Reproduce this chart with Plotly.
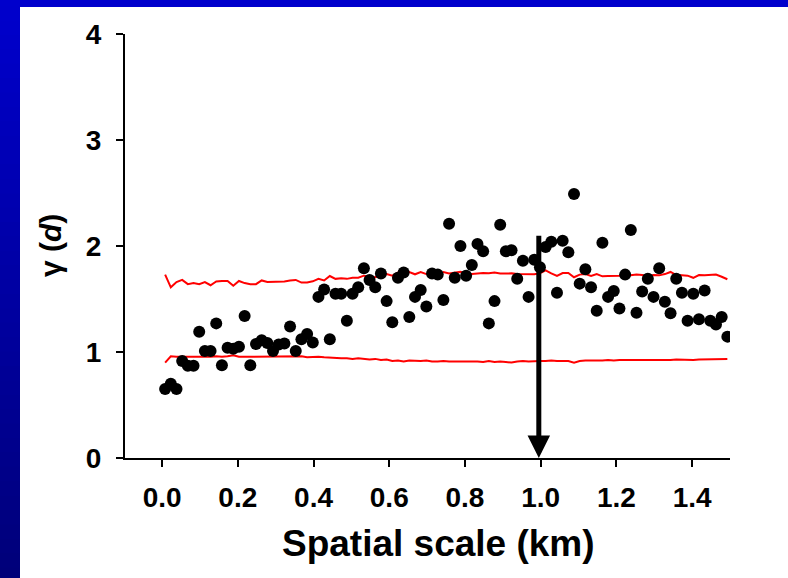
import plotly.graph_objects as go

# ---- data ----
scale_km = [round(0.008 + 0.015 * i, 3) for i in range(100)]

gamma = [0.65, 0.70, 0.65, 0.915, 0.87, 0.87, 1.19, 1.01, 1.01, 1.27,
         0.875, 1.04, 1.03, 1.05, 1.34, 0.875, 1.075, 1.11, 1.085, 1.01,
         1.07, 1.08, 1.24, 1.01, 1.12, 1.17, 1.09, 1.52, 1.59, 1.12,
         1.55, 1.55, 1.295, 1.55, 1.61, 1.79, 1.68, 1.61, 1.74, 1.48,
         1.28, 1.70, 1.75, 1.33, 1.52, 1.585, 1.43, 1.74, 1.73, 1.49,
         2.21, 1.70, 2.00, 1.72, 1.82, 2.02, 1.95, 1.27, 1.48, 2.20,
         1.95, 1.96, 1.69, 1.86, 1.52, 1.87, 1.80, 1.99, 2.04, 1.56,
         2.05, 1.94, 2.49, 1.645, 1.78, 1.61, 1.39, 2.03, 1.52, 1.575,
         1.41, 1.73, 2.15, 1.37, 1.57, 1.69, 1.52, 1.79, 1.475, 1.365,
         1.69, 1.56, 1.295, 1.55, 1.31, 1.58, 1.295, 1.26, 1.33, 1.145]

upper_env = [1.73, 1.61, 1.66, 1.68, 1.64, 1.65, 1.64, 1.66, 1.63, 1.665,
             1.67, 1.67, 1.625, 1.67, 1.65, 1.64, 1.64, 1.675, 1.66, 1.66,
             1.665, 1.665, 1.675, 1.68, 1.655, 1.655, 1.667, 1.69, 1.675, 1.717,
             1.69, 1.695, 1.69, 1.70, 1.70, 1.72, 1.71, 1.705, 1.726, 1.735,
             1.72, 1.75, 1.73, 1.755, 1.733, 1.755, 1.735, 1.735, 1.72, 1.755,
             1.74, 1.745, 1.757, 1.74, 1.735, 1.74, 1.745, 1.742, 1.75, 1.74,
             1.742, 1.742, 1.735, 1.733, 1.73, 1.733, 1.742, 1.77, 1.742, 1.717,
             1.745, 1.745, 1.705, 1.73, 1.735, 1.717, 1.735, 1.714, 1.717, 1.717,
             1.72, 1.726, 1.723, 1.73, 1.726, 1.714, 1.726, 1.723, 1.735, 1.755,
             1.726, 1.723, 1.72, 1.70, 1.726, 1.723, 1.723, 1.73, 1.71, 1.686]

lower_env = [0.90, 0.96, 0.955, 0.955, 0.95, 0.955, 0.95, 0.955, 0.955, 0.96,
             0.955, 0.96, 0.97, 0.955, 0.955, 0.96, 0.955, 0.96, 0.955, 0.96,
             0.955, 0.955, 0.958, 0.955, 0.96, 0.95, 0.955, 0.955, 0.95, 0.945,
             0.945, 0.94, 0.94, 0.935, 0.94, 0.935, 0.93, 0.935, 0.925, 0.93,
             0.915, 0.92, 0.91, 0.92, 0.915, 0.915, 0.92, 0.91, 0.91, 0.915,
             0.91, 0.91, 0.915, 0.91, 0.915, 0.91, 0.905, 0.915, 0.905, 0.91,
             0.905, 0.90, 0.91, 0.915, 0.91, 0.915, 0.915, 0.915, 0.92, 0.915,
             0.915, 0.915, 0.90, 0.915, 0.92, 0.92, 0.915, 0.92, 0.925, 0.92,
             0.925, 0.925, 0.922, 0.922, 0.922, 0.925, 0.925, 0.925, 0.928, 0.925,
             0.93, 0.928, 0.93, 0.925, 0.93, 0.93, 0.93, 0.932, 0.935, 0.935]

x_ticks = [0.0, 0.2, 0.4, 0.6, 0.8, 1.0, 1.2, 1.4]
x_tick_labels = ["0.0", "0.2", "0.4", "0.6", "0.8", "1.0", "1.2", "1.4"]
y_ticks = [0, 1, 2, 3, 4]
y_tick_labels = ["0", "1", "2", "3", "4"]

arrow_x = 0.995
arrow_top = 2.11

FONT = "Liberation Sans, Arial, Helvetica, sans-serif"

fig = go.Figure()
fig.add_trace(go.Scatter(x=scale_km, y=upper_env, mode="lines",
                         line=dict(color="#FF0000", width=2), hoverinfo="skip"))
fig.add_trace(go.Scatter(x=scale_km, y=lower_env, mode="lines",
                         line=dict(color="#FF0000", width=2), hoverinfo="skip"))
fig.add_trace(go.Scatter(x=scale_km, y=gamma, mode="markers",
                         marker=dict(color="black", size=12, line=dict(width=0))))

# blue frame (top bar + left gradient strip), in paper coords
L, R, T, B = 125, 58, 34, 120
W, H = 788, 578
pw, ph = W - L - R, H - T - B

def px_x(p):
    return (p - L) / pw

def px_y(p):
    return (H - B - p) / ph

shapes = []
shapes.append(dict(type="rect", xref="paper", yref="paper",
                   x0=px_x(-5), x1=px_x(W + 5), y0=px_y(7), y1=px_y(-5),
                   fillcolor="rgb(0,0,204)", line=dict(width=0)))
nb = 40
for k in range(nb):
    y0p = 7 + (H + 5 - 7) * k / nb
    y1p = 7 + (H + 5 - 7) * (k + 1) / nb
    b = int(round(204 - (204 - 120) * (k + 0.5) / nb))
    shapes.append(dict(type="rect", xref="paper", yref="paper",
                       x0=px_x(-5), x1=px_x(20), y0=px_y(y1p), y1=px_y(y0p) + 0.002,
                       fillcolor=f"rgb(0,0,{b})", line=dict(width=0)))

fig.update_layout(
    width=W, height=H,
    margin=dict(l=L, r=R, t=T, b=B, pad=0),
    paper_bgcolor="white", plot_bgcolor="white",
    showlegend=False,
    shapes=shapes,
    font=dict(family=FONT, color="black"),
    xaxis=dict(range=[-0.098, 1.50], tickvals=x_ticks, ticktext=x_tick_labels,
               showgrid=False, zeroline=False, showline=True, linecolor="black",
               linewidth=2, ticks="outside", ticklen=7, tickwidth=2, tickcolor="black",
               tickfont=dict(size=28, family=FONT, weight="bold"),
               ticklabelstandoff=6),
    yaxis=dict(range=[0, 4], tickvals=y_ticks, ticktext=y_tick_labels,
               showgrid=False, zeroline=False, showline=True, linecolor="black",
               linewidth=2, ticks="outside", ticklen=7, tickwidth=2, tickcolor="black",
               tickfont=dict(size=28, family=FONT, weight="bold"),
               ticklabelstandoff=9),
    annotations=[
        dict(x=arrow_x, y=0, ax=arrow_x, ay=arrow_top, xref="x", yref="y",
             axref="x", ayref="y", showarrow=True, arrowhead=2, arrowsize=0.9,
             arrowwidth=5, arrowcolor="black", text=""),
        dict(text="<b>Spatial scale (km)</b>", xref="paper", yref="paper",
             x=px_x(438), y=px_y(543), xanchor="center", yanchor="middle",
             showarrow=False, font=dict(size=37, family=FONT, color="black")),
        dict(text="<b>γ (<i>d</i>)</b>", xref="paper", yref="paper",
             x=px_x(50), y=px_y(246), xanchor="center", yanchor="middle",
             textangle=-90, showarrow=False,
             font=dict(size=30, family=FONT, color="black")),
    ],
)

fig.write_html("out.html")
